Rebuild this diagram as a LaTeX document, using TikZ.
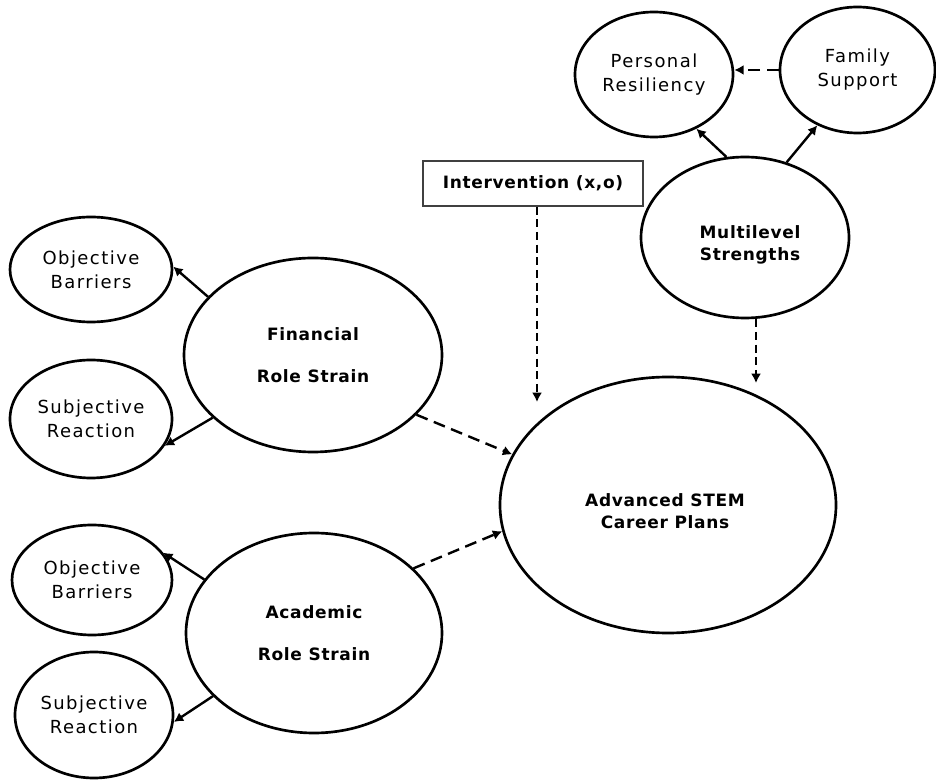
\documentclass[tikz,border=0pt]{standalone}
\usepackage{fontspec}
\usetikzlibrary{shapes.geometric,arrows.meta}
\newfontfamily\lblfont[LetterSpace=8]{DejaVu Sans}
\newfontfamily\hdfont[LetterSpace=4]{DejaVu Sans}

\begin{document}
\begin{tikzpicture}[x=0.75pt,y=-0.75pt,
  oval/.style 2 args={ellipse, draw, line width=2pt, inner sep=0pt,
    minimum width=#1*1.5pt, minimum height=#2*1.5pt},
  subtxt/.style={font=\lblfont\fontsize{13.5}{18}\selectfont, align=center},
  maintxt/.style={font=\hdfont\bfseries\fontsize{12.75}{17}\selectfont, align=center},
  solidarr/.style={line width=1.8pt, -{Latex[length=7pt,width=7.5pt]}},
  dasharr/.style={solidarr, dash pattern=on 9pt off 5pt},
  vdasharr/.style={solidarr, dash pattern=on 6pt off 3.5pt}]

\useasboundingbox[fill=white] (0,0) rectangle (936,780);

% upper right: strengths cluster
\node[oval={79}{62.5}, subtxt] (pr) at (654,74.5) {Personal\\Resiliency};
\node[oval={77.5}{63}, subtxt] (fs) at (857.5,70) {Family\\Support};
\node[oval={104}{80.5}] (ml) at (745,237.5) {};
\node[maintxt] (mltxt) at (750,245) {Multilevel\\Strengths};

% intervention box
\node[draw=black!75, line width=1pt, minimum width=165pt, minimum height=33.75pt,
  maintxt] (iv) at (533,183.5) {Intervention (x,o)};

% outcome
\node[oval={168}{128}] (adv) at (668,505) {};
\node[maintxt] (advtxt) at (665,511) {Advanced STEM\\Career Plans};

% role strains
\node[oval={129}{97}, maintxt] (fin) at (313,355) {Financial\\[15pt]Role Strain};
\node[oval={128}{100}, maintxt] (aca) at (314,633) {Academic\\[15pt]Role Strain};

% indicators
\node[oval={81}{52.5}, subtxt] (ob1) at (91,269.5) {Objective\\Barriers};
\node[oval={81}{59}, subtxt] (sr1) at (91,419) {Subjective\\Reaction};
\node[oval={80}{55}, subtxt] (ob2) at (92,580) {Objective\\Barriers};
\node[oval={79}{63}, subtxt] (sr2) at (94,715) {Subjective\\Reaction};

% free ends of the vertical dashed arrows
\coordinate (ivend) at (537,402);
\coordinate (mlend) at (756,383);

% connectors
\draw[solidarr] (fin.151) -- (ob1.2);
\draw[solidarr] (fin.212) -- (sr1.-20);
\draw[solidarr] (aca.154) -- (ob2.21);
\draw[solidarr] (aca.212) -- (sr2.-5);
\draw[dasharr] (fin.-30) -- (adv.162);
\draw[dasharr] (aca.33) -- (adv.189);
\draw[solidarr] (ml.103) -- (pr.-52);
\draw[solidarr] (ml.61) -- (fs.234);
\draw[dasharr] (fs.west) -- (pr.east |- fs.west);
\draw[vdasharr] (iv.south -| ivend) -- (ivend);
\draw[vdasharr] (ml.south -| mlend) -- (mlend);
\end{tikzpicture}
\end{document}
